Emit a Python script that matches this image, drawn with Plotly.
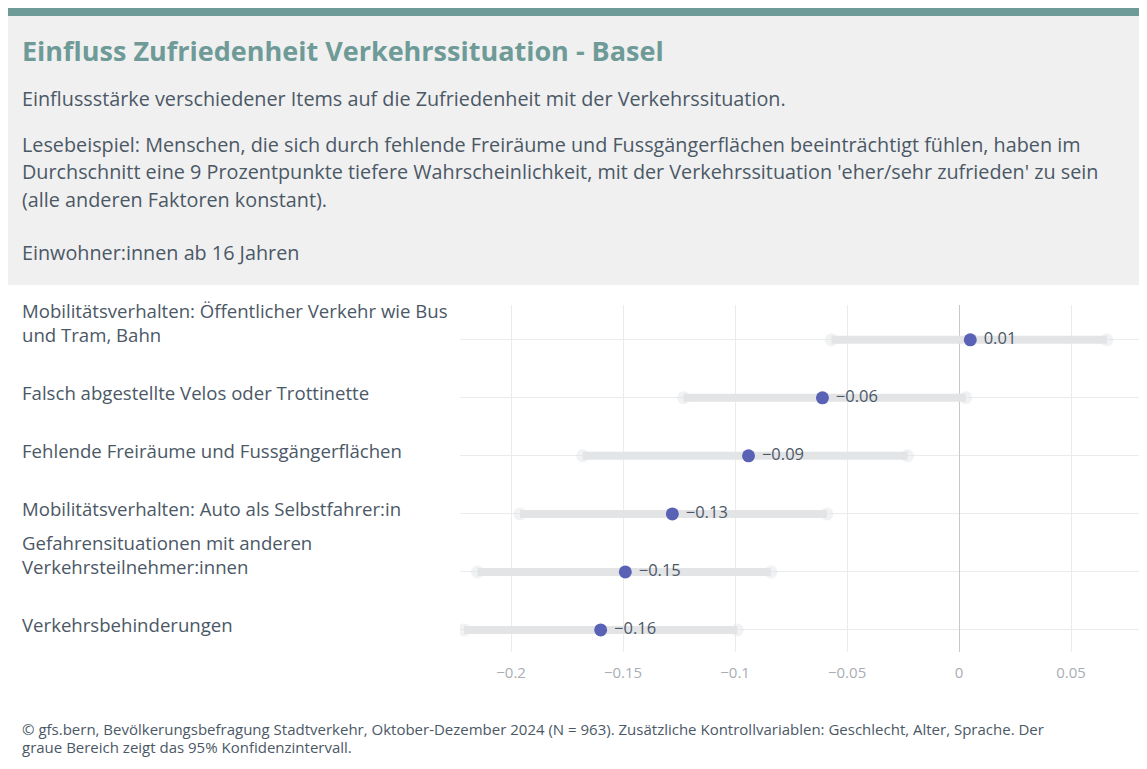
import plotly.graph_objects as go

# the page puts the figure 8px in from the top left corner
OFF = 8
W, H = 1147 - OFF, 769 - OFF
# plot area, page pixels
L, R, T, B = 460, 1145, 305, 652

items = [
    "Mobilitätsverhalten: Öffentlicher Verkehr wie Bus<br>und Tram, Bahn",
    "Falsch abgestellte Velos oder Trottinette",
    "Fehlende Freiräume und Fussgängerflächen",
    "Mobilitätsverhalten: Auto als Selbstfahrer:in",
    "Gefahrensituationen mit anderen<br>Verkehrsteilnehmer:innen",
    "Verkehrsbehinderungen",
]
coef = [0.005, -0.061, -0.094, -0.128, -0.149, -0.160]
ci_low = [-0.057, -0.123, -0.168, -0.196, -0.215, -0.221]
ci_high = [0.066, 0.003, -0.023, -0.059, -0.084, -0.099]
x_ticks = [-0.2, -0.15, -0.1, -0.05, 0, 0.05]

title = "Einfluss Zufriedenheit Verkehrssituation - Basel"
subtitle = "Einflussstärke verschiedener Items auf die Zufriedenheit mit der Verkehrssituation."
reading = [
    "Lesebeispiel: Menschen, die sich durch fehlende Freiräume und Fussgängerflächen beeinträchtigt fühlen, haben im",
    "Durchschnitt eine 9 Prozentpunkte tiefere Wahrscheinlichkeit, mit der Verkehrssituation 'eher/sehr zufrieden' zu sein",
    "(alle anderen Faktoren konstant).",
]
population = "Einwohner:innen ab 16 Jahren"
footer = [
    "© gfs.bern, Bevölkerungsbefragung Stadtverkehr, Oktober-Dezember 2024 (N = 963). Zusätzliche Kontrollvariablen: Geschlecht, Alter, Sprache. Der",
    "graue Bereich zeigt das 95% Konfidenzintervall.",
]

FONT = "Open Sans"
TEXT = "#4b5866"
TEAL = "#6e9a97"


def px(x):
    return (x - L) / (R - L)


def py(y):
    return (B - y) / (B - T)


ci_x, ci_y = [], []
for lo, hi, it in zip(ci_low, ci_high, items):
    ci_x += [lo, hi, None]
    ci_y += [it, it, None]

value_text = [" " + f"{v:.2f}".replace("-", "\u2212") for v in coef]

fig = go.Figure()
fig.add_trace(go.Scatter(
    x=ci_low + ci_high, y=items + items, mode="markers",
    marker=dict(size=13, color="rgba(225,226,228,0.45)"),
    hoverinfo="skip", showlegend=False))
fig.add_trace(go.Scatter(
    x=ci_x, y=ci_y, mode="lines",
    line=dict(color="#e3e4e6", width=8),
    hoverinfo="skip", showlegend=False))
fig.add_trace(go.Scatter(
    x=coef, y=items, mode="markers+text",
    marker=dict(size=13, color="#5a62b6"),
    text=value_text, textposition="middle right",
    textfont=dict(family=FONT, size=16.5, color=TEXT),
    showlegend=False))

shapes = [
    dict(type="rect", xref="paper", yref="paper", x0=px(OFF), x1=px(1160), y0=py(16), y1=py(285),
         fillcolor="#f0f0f0", line_width=0, layer="below"),
    dict(type="rect", xref="paper", yref="paper", x0=px(OFF), x1=px(1160), y0=py(OFF), y1=py(16),
         fillcolor=TEAL, line_width=0, layer="below"),
]

ann = []


def txt(s, x, y, size, color=TEXT, bold=False):
    ann.append(dict(text=f"<b>{s}</b>" if bold else s, xref="paper", yref="paper",
                    x=px(x), y=py(y), xanchor="left", yanchor="middle", showarrow=False,
                    align="left", font=dict(family=FONT, size=size, color=color)))


txt(title, 20, 50, 27, TEAL, bold=True)
txt(subtitle, 20, 98, 19.8)
for i, line in enumerate(reading):
    txt(line, 20, 145 + 27 * i, 19.8)
txt(population, 20, 252, 19.8)
for i, line in enumerate(footer):
    txt(line, 20, 729 + 18 * i, 15)

for it in items:
    ann.append(dict(text=it, xref="paper", yref="y", x=px(20), y=it, yshift=-9,
                    xanchor="left", yanchor="bottom", showarrow=False, align="left",
                    font=dict(family=FONT, size=18.6, color=TEXT)))

fig.update_layout(
    width=W, height=H, plot_bgcolor="white", paper_bgcolor="white",
    margin=dict(l=L - OFF, r=W + OFF - R, t=T - OFF, b=H + OFF - B),
    font=dict(family=FONT),
    shapes=shapes, annotations=ann,
    xaxis=dict(range=[-0.2228, 0.083], tickvals=x_ticks, tickformat="~g",
               showgrid=True, gridcolor="#ebebeb", zeroline=True, zerolinecolor="#c8c8c8",
               zerolinewidth=1, showline=False, ticks="", ticklabelstandoff=10,
               tickfont=dict(family=FONT, size=15, color="#a9aeb4")),
    yaxis=dict(type="category", categoryorder="array", categoryarray=items,
               range=[5.38, -0.6], showgrid=True, gridcolor="#ebebeb",
               showticklabels=False, zeroline=False, showline=False, ticks=""),
)

fig.write_html("out.html")
